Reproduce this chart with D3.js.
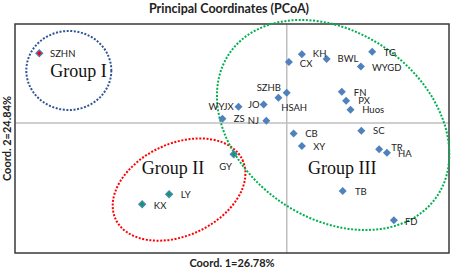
<!DOCTYPE html>
<html>
<head>
<meta charset="utf-8">
<script src="https://cdn.jsdelivr.net/npm/d3@7"></script>
<style>
  body { margin: 0; background: #fff; }
  .site-label { font-family: Lato, "Open Sans", sans-serif; font-size: 9.5px; fill: #222; }
  .axis-title { font-family: Lato, "Open Sans", sans-serif; font-size: 11px; font-weight: bold; fill: #222; }
  .group-label { font-family: "Liberation Serif", "DejaVu Serif", serif; font-size: 18px; fill: #111; }
</style>
</head>
<body>
<div id="pcoa"></div>
<script>
// PCoA scores
const sites  = ["SZHN", "CX", "KH", "BWL", "WYGD", "TG", "SZHB", "HSAH", "JO", "WYJX", "ZS", "NJ",
                "FN", "PX", "Huos", "CB", "XY", "SC", "TR", "HA", "TB", "FD", "GY", "LY", "KX"];
const coord1 = [-0.569, 0.006, 0.036, 0.093, 0.172, 0.198, 0.001, -0.018, -0.052, -0.110, -0.147, -0.046,
                0.128, 0.138, 0.148, 0.017, 0.036, 0.173, 0.214, 0.232, 0.130, 0.248, -0.121, -0.270, -0.332];
const coord2 = [0.302, 0.264, 0.298, 0.277, 0.244, 0.309, 0.130, 0.108, 0.079, 0.069, 0.016, 0.008,
                0.134, 0.095, 0.056, -0.048, -0.103, -0.036, -0.117, -0.132, -0.299, -0.427, -0.139, -0.313, -0.357];
const siteGroup = ["I", "III", "III", "III", "III", "III", "III", "III", "III", "III", "III", "III",
                   "III", "III", "III", "III", "III", "III", "III", "III", "III", "III", "II", "II", "II"];

const groupNames   = ["Group I", "Group II", "Group III"];
const groupCentre1 = [-0.501, -0.247, 0.108];
const groupCentre2 = [0.227, -0.293, -0.011];
const groupText1   = [-0.544, -0.333, 0.050];
const groupText2   = [0.199, -0.225, -0.226];

const titleText = "Principal Coordinates (PCoA)";
const xTitle = "Coord. 1=26.78%";
const yTitle = "Coord. 2=24.84%";

// Set the dimensions and margins of the graph
const margin = { top: 24, right: 5, bottom: 16, left: 15 },
    width = 454 - margin.left - margin.right,
    height = 269 - margin.top - margin.bottom;

const x = d3.scaleLinear().domain([-0.625, 0.375]).range([0, width]);
const y = d3.scaleLinear().domain([-0.57, 0.43]).range([height, 0]);

const svg = d3.select("#pcoa").append("svg")
    .attr("width", 454)
    .attr("height", 269);

svg.append("text")
    .attr("class", "axis-title")
    .attr("x", 229)
    .attr("y", 12.5)
    .attr("text-anchor", "middle")
    .style("font-size", "12.5px")
    .text(titleText);

const g = svg.append("g")
    .attr("transform", `translate(${margin.left},${margin.top})`);

// zero lines drawn as tickless axes
g.append("g")
    .attr("class", "zero-x")
    .attr("transform", `translate(0,${y(0)})`)
    .call(d3.axisBottom(x).tickValues([]).tickSizeOuter(0));
g.append("g")
    .attr("class", "zero-y")
    .attr("transform", `translate(${x(0)},0)`)
    .call(d3.axisLeft(y).tickValues([]).tickSizeOuter(0));
g.selectAll(".zero-x path, .zero-y path")
    .attr("stroke", "#bfbfbf")
    .attr("stroke-width", 1.5);

// plot border
g.append("rect")
    .attr("width", width)
    .attr("height", height)
    .attr("fill", "none")
    .attr("stroke", "#3a3a3a")
    .attr("stroke-width", 1.5);

// axis titles
svg.append("text")
    .attr("class", "axis-title")
    .attr("x", margin.left + width / 2)
    .attr("y", 266.5)
    .attr("text-anchor", "middle")
    .text(xTitle);
svg.append("text")
    .attr("class", "axis-title")
    .attr("transform", "rotate(-90)")
    .attr("x", -(margin.top + height / 2))
    .attr("y", 11)
    .attr("text-anchor", "middle")
    .text(yTitle);

// group ellipses (shape in px, centre from the scales)
const ellipseShape = [
    { rx: 42.5, ry: 39.5, rot: 0, color: "#2f5597" },
    { rx: 70, ry: 46, rot: -25, color: "#ff0000" },
    { rx: 126, ry: 93, rot: 35, color: "#00b050" }
];
groupNames.forEach((name, i) => {
    const cx = x(groupCentre1[i]), cy = y(groupCentre2[i]);
    const s = ellipseShape[i];
    g.append("ellipse")
        .attr("cx", cx)
        .attr("cy", cy)
        .attr("rx", s.rx)
        .attr("ry", s.ry)
        .attr("transform", `rotate(${s.rot},${cx},${cy})`)
        .attr("fill", "none")
        .attr("stroke", s.color)
        .attr("stroke-width", 2)
        .attr("stroke-dasharray", "2 1.6");
    g.append("text")
        .attr("class", "group-label")
        .attr("x", x(groupText1[i]))
        .attr("y", y(groupText2[i]))
        .text(name);
});

// label placement around each marker: [dx, dy, anchor]
const labelPos = {
    SZHN: [10.7, 0, "start"], CX: [11, 1.5, "start"], KH: [11, -1, "start"], BWL: [11, 0, "start"],
    WYGD: [11, 1, "start"], TG: [11.5, 1, "start"], SZHB: [-5.7, -4.7, "end"], HSAH: [2.7, 10.3, "start"],
    JO: [-4, 0.5, "end"], WYJX: [-4.7, 0.3, "end"], ZS: [11.4, 0.3, "start"], NJ: [-7.3, 0.3, "end"],
    FN: [12, 1, "start"], PX: [12, 0, "start"], Huos: [11.7, 0.3, "start"], CB: [11.5, 0.5, "start"],
    XY: [11.3, 1, "start"], SC: [11.7, 0.3, "start"], TR: [12, -1.3, "start"], HA: [11, 1.3, "start"],
    TB: [12.3, 1, "start"], FD: [11, 1.5, "start"], GY: [-14.4, 12.4, "start"], LY: [11.7, 1, "start"],
    KX: [11.7, 1, "start"]
};

const fillOf = { I: "#ff0000", II: "#00a651", III: "#4f81bd" };
const data = sites.map((s, i) => ({ site: s, c1: coord1[i], c2: coord2[i], grp: siteGroup[i] }));

const dots = g.append("g").attr("class", "dots");
dots.selectAll("path")
    .data(data)
    .enter()
    .append("path")
    .attr("d", d => d3.symbol(d3.symbolSquare, d.grp === "III" ? 32 : 22)())
    .attr("transform", d => `translate(${x(d.c1)},${y(d.c2)}) rotate(45)`)
    .attr("fill", d => fillOf[d.grp])
    .attr("stroke", d => d.grp === "III" ? "none" : "#4f81bd")
    .attr("stroke-width", 1.3);

dots.selectAll("text")
    .data(data)
    .enter()
    .append("text")
    .attr("class", "site-label")
    .attr("x", d => x(d.c1) + labelPos[d.site][0])
    .attr("y", d => y(d.c2) + labelPos[d.site][1])
    .attr("dy", "0.35em")
    .attr("text-anchor", d => labelPos[d.site][2])
    .text(d => d.site);
</script>
</body>
</html>
